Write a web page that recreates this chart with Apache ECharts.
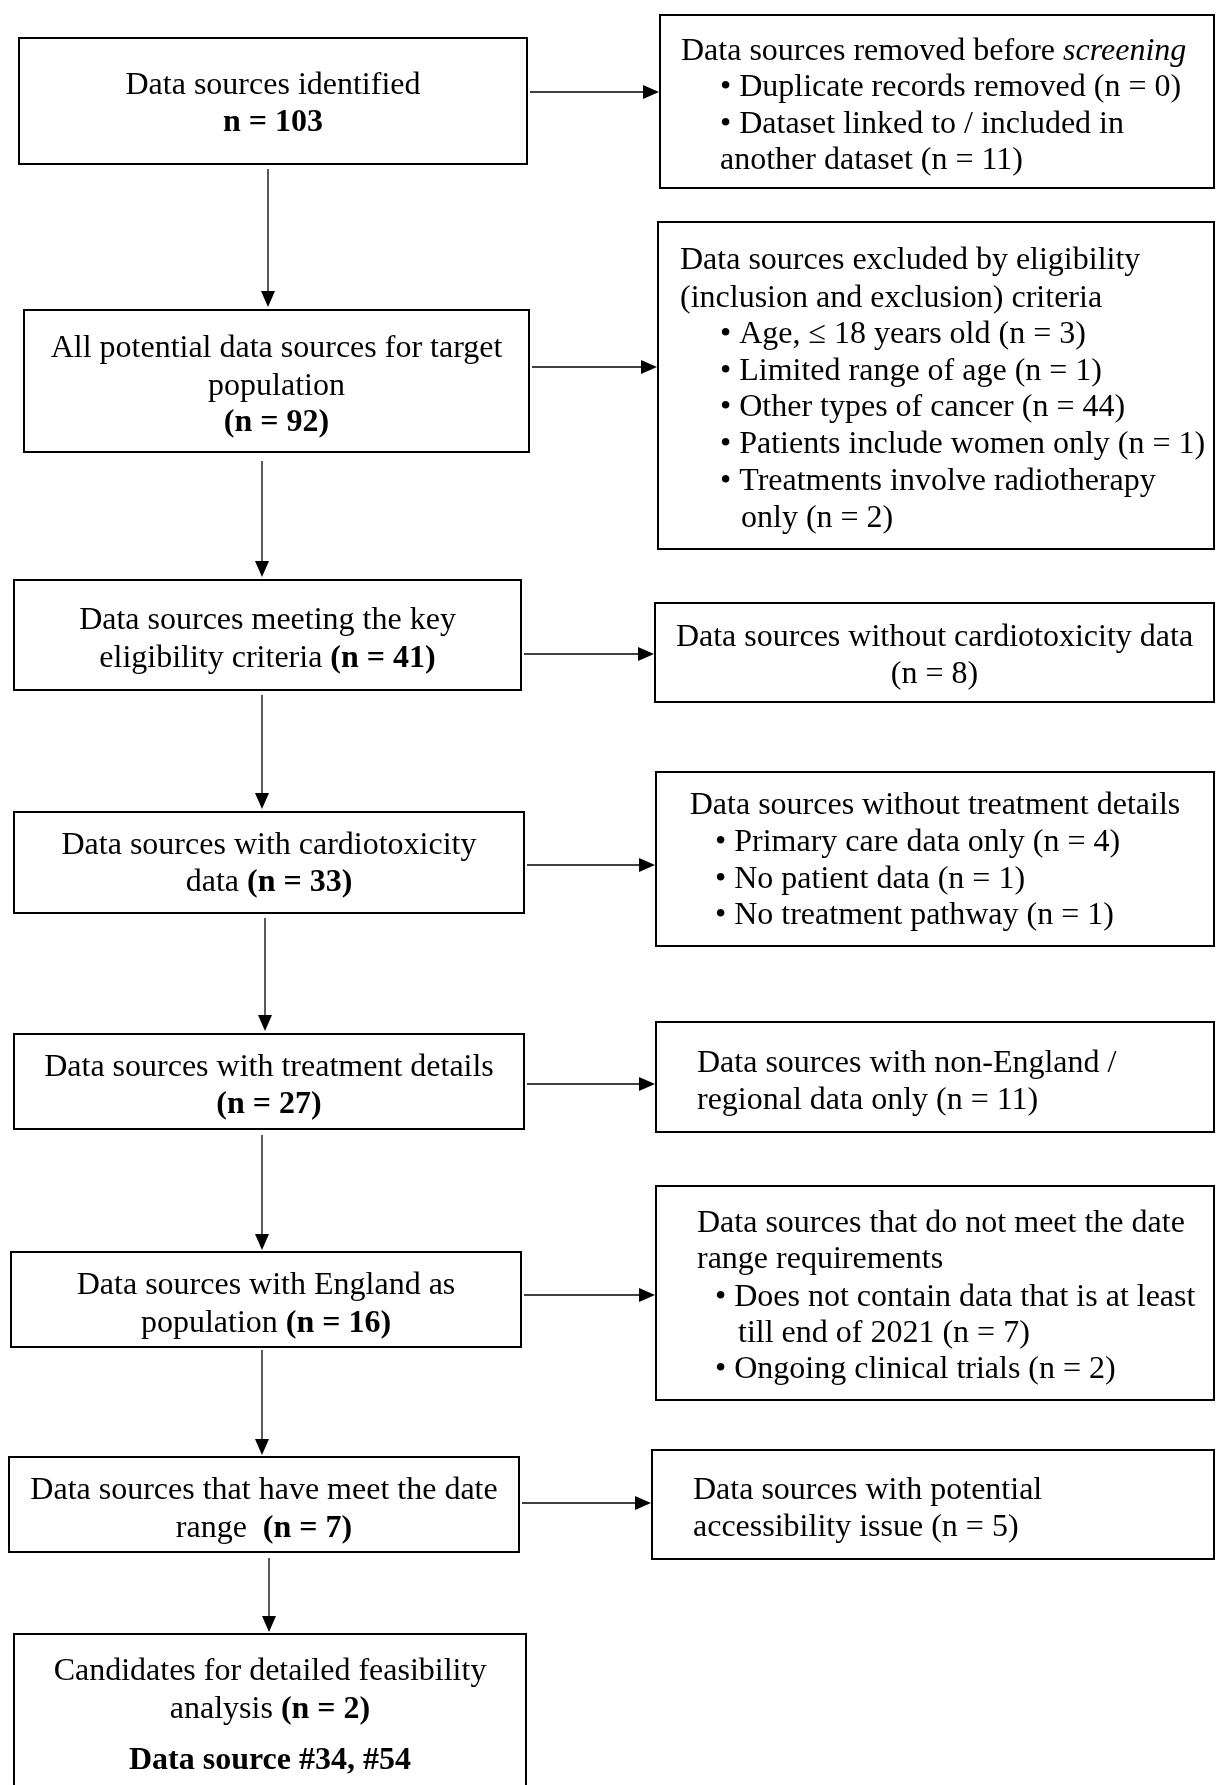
<!DOCTYPE html>
<html><head><meta charset="utf-8">
<script src="https://cdn.jsdelivr.net/npm/echarts@6/dist/echarts.min.js"></script>
<style>html,body{margin:0;padding:0;background:#fff}#c{width:1216px;height:1785px}</style>
</head><body><div id="c"></div>
<script>
// ---------- data ----------
const stepCounts = [103, 92, 41, 33, 27, 16, 7, 2];
const stepLines = [
  ['Data sources identified', '{b|n = %N}'],
  ['All potential data sources for target', 'population', '{b|(n = %N)}'],
  ['Data sources meeting the key', 'eligibility criteria {b|(n = %N)}'],
  ['Data sources with cardiotoxicity', 'data {b|(n = %N)}'],
  ['Data sources with treatment details', '{b|(n = %N)}'],
  ['Data sources with England as', 'population {b|(n = %N)}'],
  ['Data sources that have meet the date', 'range  {b|(n = %N)}'],
  ['Candidates for detailed feasibility', 'analysis {b|(n = %N)}', '{b|Data source #34, #54}']
];
const exclCounts = [[0, 11], [3, 1, 44, 1, 2], [8], [4, 1, 1], [11], [7, 2], [5]];
const exclLines = [
  [['h', 'Data sources removed before {i|screening}'], ['b', 'Duplicate records removed (n = %N)'], ['b', 'Dataset linked to / included in'], ['w', 'another dataset (n = %N)']],
  [['h', 'Data sources excluded by eligibility'], ['h', '(inclusion and exclusion) criteria'], ['b', 'Age, \u2264 18 years old (n = %N)'], ['b', 'Limited range of age (n = %N)'], ['b', 'Other types of cancer (n = %N)'], ['b', 'Patients include women only (n = %N)'], ['b', 'Treatments involve radiotherapy'], ['w', 'only (n = %N)']],
  [['c', 'Data sources without cardiotoxicity data'], ['c', '(n = %N)']],
  [['c', 'Data sources without treatment details'], ['b', 'Primary care data only (n = %N)'], ['b', 'No patient data (n = %N)'], ['b', 'No treatment pathway (n = %N)']],
  [['h', 'Data sources with non-England /'], ['h', 'regional data only (n = %N)']],
  [['h', 'Data sources that do not meet the date'], ['h', 'range requirements'], ['b', 'Does not contain data that is at least'], ['w', 'till end of 2021 (n = %N)'], ['b', 'Ongoing clinical trials (n = %N)']],
  [['h', 'Data sources with potential'], ['h', 'accessibility issue (n = %N)']]
];

// ---------- layout ----------
const FONT = '"Liberation Serif", "Times New Roman", serif';
const FS = 32;
const DY = 3; // baseline correction
const leftBoxes = [
  {r: [19, 38, 527, 164], ys: [83, 120]},
  {r: [24, 310, 529, 452], ys: [346, 384, 420]},
  {r: [14, 580, 521, 690], ys: [618, 656]},
  {r: [14, 812, 524, 913], ys: [843, 880]},
  {r: [14, 1034, 524, 1129], ys: [1065, 1102]},
  {r: [11, 1252, 521, 1347], ys: [1283, 1321]},
  {r: [9, 1457, 519, 1552], ys: [1488, 1526]},
  {r: [14, 1634, 526, 1800], ys: [1669, 1707, 1758]}
];
const downArrows = [[268, 169, 307], [262, 461, 577], [262, 695, 809], [265, 918, 1031], [262, 1135, 1250], [262, 1350, 1455], [269, 1558, 1632]];
const rightBoxes = [
  {r: [660, 15, 1214, 188], h: 681, b: 720, w: 720, ys: [49, 85, 122, 158]},
  {r: [658, 222, 1214, 549], h: 680, b: 720, w: 741, ys: [258, 296, 332, 369, 405, 442, 479, 516]},
  {r: [655, 603, 1214, 702], ys: [635, 672]},
  {r: [656, 772, 1214, 946], b: 715, ys: [803, 840, 877, 913]},
  {r: [656, 1022, 1214, 1132], h: 697, ys: [1061, 1098]},
  {r: [656, 1186, 1214, 1400], h: 697, b: 715, w: 738, ys: [1221, 1257, 1295, 1331, 1367]},
  {r: [652, 1450, 1214, 1559], h: 693, ys: [1488, 1525]}
];
const sideArrowY = [92, 367, 654, 865, 1084, 1295, 1503];

const rich = {
  b: {fontFamily: FONT, fontSize: FS, fontWeight: 'bold', fill: '#000'},
  i: {fontFamily: FONT, fontSize: FS, fontStyle: 'italic', fill: '#000'}
};
function txt(x, y, s, align) {
  return {type: 'text', x: x, y: y + DY, silent: true,
    style: {text: s, fontFamily: FONT, fontSize: FS, fill: '#000', align: align, verticalAlign: 'middle',
      textAlign: align, textVerticalAlign: 'middle', rich: rich}};
}
function rect(r) {
  return {type: 'rect', shape: {x: r[0], y: r[1], width: r[2] - r[0], height: r[3] - r[1]},
    style: {fill: '#fff', stroke: '#000', lineWidth: 2}};
}
const AL = 16, AW = 7;
function vArrow(x, y1, y2) {
  return [
    {type: 'line', shape: {x1: x, y1: y1, x2: x, y2: y2 - AL + 1}, style: {stroke: '#000', lineWidth: 1.3}},
    {type: 'polygon', shape: {points: [[x - AW, y2 - AL], [x + AW, y2 - AL], [x, y2]]}, style: {fill: '#000'}}
  ];
}
function hArrow(x1, x2, y) {
  return [
    {type: 'line', shape: {x1: x1, y1: y, x2: x2 - AL + 1, y2: y}, style: {stroke: '#000', lineWidth: 1.3}},
    {type: 'polygon', shape: {points: [[x2 - AL, y - AW], [x2 - AL, y + AW], [x2, y]]}, style: {fill: '#000'}}
  ];
}

const els = [];
leftBoxes.forEach(function (bx, i) {
  els.push(rect(bx.r));
  const cx = (bx.r[0] + bx.r[2]) / 2;
  stepLines[i].forEach(function (line, j) {
    els.push(txt(cx, bx.ys[j], line.replace('%N', stepCounts[i]), 'center'));
  });
});
downArrows.forEach(function (a) { els.push.apply(els, vArrow(a[0], a[1], a[2])); });
rightBoxes.forEach(function (bx, i) {
  els.push(rect(bx.r));
  const cx = (bx.r[0] + bx.r[2]) / 2;
  let k = 0;
  exclLines[i].forEach(function (item, j) {
    let s = item[1];
    if (s.indexOf('%N') >= 0) { s = s.replace('%N', exclCounts[i][k]); k++; }
    const kind = item[0];
    if (kind === 'c') els.push(txt(cx, bx.ys[j], s, 'center'));
    else if (kind === 'h') els.push(txt(bx.h, bx.ys[j], s, 'left'));
    else if (kind === 'b') els.push(txt(bx.b, bx.ys[j], '\u2022 ' + s, 'left'));
    else els.push(txt(bx.w, bx.ys[j], s, 'left'));
  });
  els.push.apply(els, hArrow(leftBoxes[i].r[2] + 3, bx.r[0] - 1, sideArrowY[i]));
});

const chart = echarts.init(document.getElementById('c'), null, {renderer: 'canvas'});
chart.setOption({backgroundColor: '#fff', animation: false, graphic: {elements: els}});
</script>
</body></html>
